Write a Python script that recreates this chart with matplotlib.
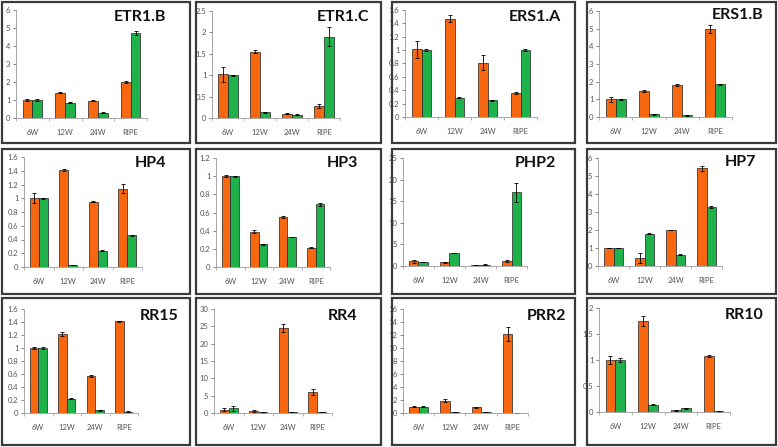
import numpy as np
import matplotlib
matplotlib.use("Agg")
import matplotlib.pyplot as plt
from matplotlib.patches import Rectangle

plt.rcParams["font.family"] = ["Lato", "DejaVu Sans"]

W, H = 778, 447
ORANGE = "#f7670f"; GREEN = "#1fb24b"; TXT = "#555555"

stages = ["6W", "12W", "24W", "RIPE"]

# values per gene: orange / green bars and their error bars
etr1b_o = [1.0, 1.4, 0.97, 2.0];   etr1b_g = [1.0, 0.85, 0.3, 4.72]
etr1b_oe = [0.05, 0.02, 0.02, 0.08]; etr1b_ge = [0.05, 0.02, 0.02, 0.1]
etr1c_o = [1.02, 1.55, 0.1, 0.28]; etr1c_g = [1.0, 0.13, 0.08, 1.9]
etr1c_oe = [0.18, 0.03, 0.01, 0.04]; etr1c_ge = [0.01, 0.01, 0.01, 0.22]
ers1a_o = [1.01, 1.47, 0.81, 0.36]; ers1a_g = [1.0, 0.29, 0.25, 1.0]
ers1a_oe = [0.13, 0.05, 0.11, 0.01]; ers1a_ge = [0.01, 0.01, 0.01, 0.02]
ers1b_o = [1.0, 1.47, 1.83, 4.97]; ers1b_g = [1.0, 0.15, 0.1, 1.85]
ers1b_oe = [0.15, 0.05, 0.05, 0.22]; ers1b_ge = [0.01, 0.02, 0.02, 0.04]
hp4_o = [1.0, 1.41, 0.95, 1.14]; hp4_g = [1.0, 0.03, 0.24, 0.46]
hp4_oe = [0.07, 0.01, 0.005, 0.07]; hp4_ge = [0.01, 0.005, 0.005, 0.01]
hp3_o = [1.0, 0.39, 0.55, 0.21]; hp3_g = [1.0, 0.25, 0.33, 0.69]
hp3_oe = [0.01, 0.02, 0.01, 0.005]; hp3_ge = [0.005, 0.003, 0.003, 0.02]
php2_o = [1.1, 0.9, 0.2, 1.1]; php2_g = [0.9, 3.0, 0.3, 17.1]
php2_oe = [0.4, 0.1, 0.05, 0.2]; php2_ge = [0.05, 0.05, 0.1, 2.2]
hp7_o = [1.0, 0.45, 2.0, 5.42]; hp7_g = [1.0, 1.8, 0.63, 3.27]
hp7_oe = [0.02, 0.28, 0.02, 0.15]; hp7_ge = [0.02, 0.02, 0.02, 0.07]
rr15_o = [1.0, 1.22, 0.57, 1.41]; rr15_g = [1.0, 0.22, 0.04, 0.02]
rr15_oe = [0.02, 0.03, 0.01, 0.005]; rr15_ge = [0.01, 0.01, 0.005, 0.005]
rr4_o = [1.0, 0.6, 24.6, 6.0]; rr4_g = [1.3, 0.15, 0.3, 0.2]
rr4_oe = [0.4, 0.2, 1.1, 0.8]; rr4_ge = [0.8, 0.05, 0.05, 0.05]
prr2_o = [1.0, 1.9, 0.85, 12.2]; prr2_g = [1.0, 0.2, 0.1, 0.05]
prr2_oe = [0.02, 0.2, 0.05, 1.1]; prr2_ge = [0.02, 0.02, 0.02, 0.02]
rr10_o = [1.0, 1.75, 0.03, 1.08]; rr10_g = [1.0, 0.14, 0.07, 0.01]
rr10_oe = [0.07, 0.1, 0.01, 0.02]; rr10_ge = [0.03, 0.01, 0.005, 0.005]

titles = ["ETR1.B", "ETR1.C", "ERS1.A", "ERS1.B", "HP4", "HP3", "PHP2", "HP7",
          "RR15", "RR4", "PRR2", "RR10"]
ymax = [6, 2.5, 1.6, 6, 1.6, 1.2, 25, 6, 1.6, 30, 16, 2]
ystep = [1, 0.5, 0.2, 1, 0.2, 0.2, 5, 1, 0.2, 5, 2, 0.5]

data = [(etr1b_o, etr1b_g, etr1b_oe, etr1b_ge), (etr1c_o, etr1c_g, etr1c_oe, etr1c_ge),
        (ers1a_o, ers1a_g, ers1a_oe, ers1a_ge), (ers1b_o, ers1b_g, ers1b_oe, ers1b_ge),
        (hp4_o, hp4_g, hp4_oe, hp4_ge), (hp3_o, hp3_g, hp3_oe, hp3_ge),
        (php2_o, php2_g, php2_oe, php2_ge), (hp7_o, hp7_g, hp7_oe, hp7_ge),
        (rr15_o, rr15_g, rr15_oe, rr15_ge), (rr4_o, rr4_g, rr4_oe, rr4_ge),
        (prr2_o, prr2_g, prr2_oe, prr2_ge), (rr10_o, rr10_g, rr10_oe, rr10_ge)]

# layout in pixels
boxes_x = [(2, 190), (196, 381), (392, 575), (587, 776)]
boxes_y = [(2, 143), (149, 294), (298, 445)]
# axes: (left, right, top, bottom) in px
axes_px = [(16, 147, 10, 118), (212, 340, 11, 118), (405, 537, 10, 117), (599, 732, 11, 117),
           (24, 142, 157, 267), (216, 330, 158, 267), (403, 527, 158, 266), (598, 722, 158, 266),
           (24, 138, 309, 413), (214, 332, 309, 413), (403, 528, 309, 413), (599, 730, 308, 412)]
title_px = [(140, 17), (343, 17), (535, 17), (738, 15), (151, 163), (342, 163), (535, 163),
            (740, 162), (159, 316), (343, 316), (547, 316), (744, 315)]

fig = plt.figure(figsize=(W/100, H/100), dpi=100)
fig.patch.set_facecolor("white")

for (y0, y1) in boxes_y:
    for (x0, x1) in boxes_x:
        fig.add_artist(Rectangle((x0/W, 1-y1/H), (x1-x0)/W, (y1-y0)/H, transform=fig.transFigure,
                                 fill=False, ec="#3a3a3a", lw=1.6))

def fmt(v):
    return f"{v:g}"

x = np.arange(4)
bw = 0.3
for i, (o, g, oe, ge) in enumerate(data):
    l, r, t, b = axes_px[i]
    ax = fig.add_axes([l/W, 1-b/H, (r-l)/W, (b-t)/H])
    ax.bar(x-bw/2, o, bw, color=ORANGE, ec="#222222", lw=0.5)
    ax.bar(x+bw/2, g, bw, color=GREEN, ec="#222222", lw=0.5)
    ax.errorbar(x-bw/2, o, yerr=oe, fmt="none", ecolor="black", elinewidth=0.6, capsize=1.5, capthick=0.6)
    ax.errorbar(x+bw/2, g, yerr=ge, fmt="none", ecolor="black", elinewidth=0.6, capsize=1.5, capthick=0.6)
    ax.set_xlim(-0.5, 3.5); ax.set_ylim(0, ymax[i])
    ticks = np.round(np.arange(0, ymax[i]+ystep[i]/2, ystep[i]), 2)
    ax.set_yticks(ticks); ax.set_yticklabels([fmt(v) for v in ticks])
    ax.set_xticks(x); ax.set_xticklabels(stages)
    ax.set_xticks(np.arange(-0.5, 4, 1), minor=True)
    ax.tick_params(axis="x", which="major", length=0, labelsize=5.5, colors=TXT, pad=8)
    ax.tick_params(axis="x", which="minor", length=2, color="#999999", width=0.5)
    ax.tick_params(axis="y", length=2, labelsize=5.5, colors=TXT, width=0.5, pad=2)
    ax.spines[["top", "right"]].set_visible(False)
    for s in ["left", "bottom"]:
        ax.spines[s].set_color("#999999"); ax.spines[s].set_linewidth(0.6)
    ax.patch.set_alpha(0)
    tx, ty = title_px[i]
    fig.text(tx/W, 1-ty/H, titles[i], ha="center", va="center", fontsize=11.5,
             fontweight="bold", color="#111111")

fig.savefig("out.png", dpi=100)
